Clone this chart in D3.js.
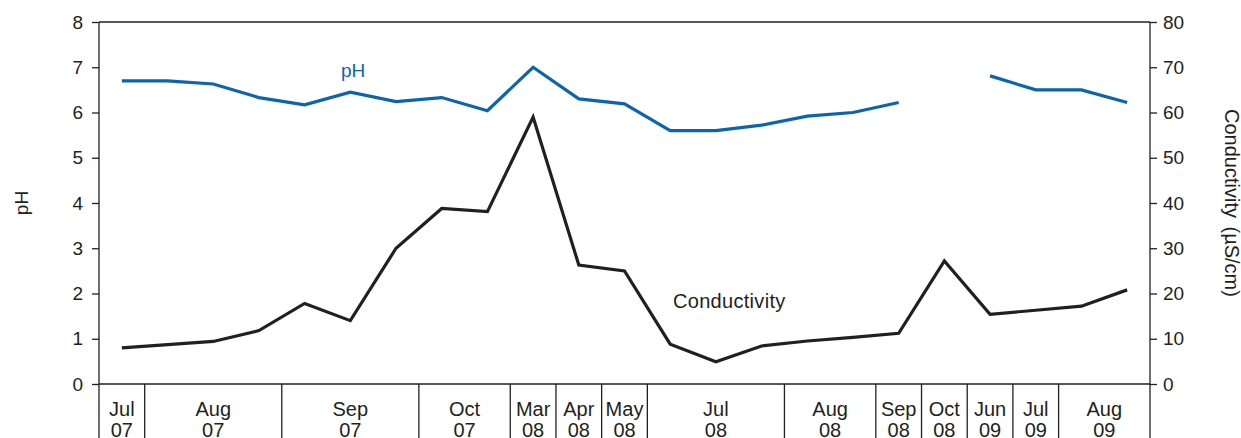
<!DOCTYPE html>
<html>
<head>
<meta charset="utf-8">
<script src="https://cdn.jsdelivr.net/npm/d3@7"></script>
<style>
  html, body { margin: 0; padding: 0; background: #fff; }
  svg { display: block; font-family: "Liberation Sans", Arial, Helvetica, sans-serif; }
</style>
</head>
<body>
<svg id="chart" width="1241" height="438"></svg>
<script>
// Sampling months, grouped as printed under the axis
const monthLabels = ["Jul", "Aug", "Sep", "Oct", "Mar", "Apr", "May", "Jul", "Aug", "Sep", "Oct", "Jun", "Jul", "Aug"];
const yearLabels  = ["07", "07", "07", "07", "08", "08", "08", "08", "08", "08", "08", "09", "09", "09"];
const groupCounts = [1, 3, 3, 2, 1, 1, 1, 3, 2, 1, 1, 1, 1, 2];

// Measurements per sampling event (null = not measured)
const phValues = [6.70, 6.70, 6.63, 6.33, 6.17, 6.45, 6.24, 6.33, 6.04, 7.00, 6.30, 6.19,
                  5.60, 5.60, 5.72, 5.92, 6.00, 6.22, null, 6.81, 6.50, 6.50, 6.22];
const conductivityValues = [8.0, 8.7, 9.4, 11.8, 17.8, 14.0, 30.0, 38.8, 38.1, 59.0, 26.3, 25.0,
                            8.8, 4.9, 8.4, 9.5, 10.3, 11.2, 27.2, 15.4, 16.3, 17.2, 20.8];

// Axis ticks
const phTicks = [0, 1, 2, 3, 4, 5, 6, 7, 8];
const condTicks = [0, 10, 20, 30, 40, 50, 60, 70, 80];

const ink = "#231f20";
const blue = "#0b64ae";

const svg = d3.select("#chart");
const W = 1241, H = 438;
const plotLeft = 99, plotRight = 1150, plotTop = 22, plotBottom = 384;

const x = d3.scaleBand().domain(d3.range(phValues.length)).range([plotLeft, plotRight]).padding(0);
const yPh = d3.scaleLinear().domain([0, 8]).range([plotBottom, plotTop]);
const yCond = d3.scaleLinear().domain([0, 80]).range([plotBottom, plotTop]);

// Left axis
const leftAxis = svg.append("g")
  .attr("transform", `translate(${plotLeft},0)`)
  .call(d3.axisLeft(yPh).tickValues(phTicks).tickSize(7).tickPadding(9).tickFormat(d3.format("d")));
// Right axis
const rightAxis = svg.append("g")
  .attr("transform", `translate(${plotRight},0)`)
  .call(d3.axisRight(yCond).tickValues(condTicks).tickSize(7).tickPadding(6).tickFormat(d3.format("d")));

[leftAxis, rightAxis].forEach(g => {
  g.select(".domain").remove();
  g.selectAll(".tick line").attr("stroke", ink).attr("stroke-width", 1.3);
  g.selectAll(".tick text").attr("fill", ink).style("font-size", "19px")
    .style("font-family", "'Liberation Sans', Arial, sans-serif");
});

// Frame: top, left and right spines (sides run to the bottom edge), baseline
const frame = svg.append("g").attr("stroke", ink).attr("stroke-width", 1.3).attr("fill", "none");
frame.append("line").attr("x1", plotLeft).attr("x2", plotRight).attr("y1", plotTop).attr("y2", plotTop);
frame.append("line").attr("x1", plotLeft).attr("x2", plotLeft).attr("y1", plotTop).attr("y2", H);
frame.append("line").attr("x1", plotRight).attr("x2", plotRight).attr("y1", plotTop).attr("y2", H);
frame.append("line").attr("x1", plotLeft).attr("x2", plotRight).attr("y1", plotBottom).attr("y2", plotBottom);

// Month group dividers and labels below the baseline
let start = 0;
const groups = groupCounts.map((n, i) => {
  const g = { month: monthLabels[i], year: yearLabels[i], first: start, last: start + n - 1 };
  start += n;
  return g;
});
const bw = x.bandwidth();
groups.forEach((g, i) => {
  const x0 = x(g.first), x1 = x(g.last) + bw;
  if (i < groups.length - 1) {
    frame.append("line").attr("x1", x1).attr("x2", x1).attr("y1", plotBottom).attr("y2", H);
  }
  const mid = (x0 + x1) / 2;
  const t = svg.append("text").attr("text-anchor", "middle").attr("fill", ink)
    .style("font-size", "20px");
  t.append("tspan").attr("x", mid).attr("y", 416).text(g.month);
  t.append("tspan").attr("x", mid).attr("y", 437).text(g.year);
});

// Series lines
const px = i => x(i) + bw / 2;
const phLine = d3.line().defined(d => d != null).x((d, i) => px(i)).y(d => yPh(d));
const condLine = d3.line().x((d, i) => px(i)).y(d => yCond(d));

svg.append("path").datum(conductivityValues)
  .attr("d", condLine).attr("fill", "none").attr("stroke", ink)
  .attr("stroke-width", 3.2).attr("stroke-linejoin", "miter");
svg.append("path").datum(phValues)
  .attr("d", phLine).attr("fill", "none").attr("stroke", blue)
  .attr("stroke-width", 3.2).attr("stroke-linejoin", "miter");

// Series labels
svg.append("text").attr("x", 341).attr("y", 77).attr("fill", blue)
  .style("font-size", "19px").text("pH");
svg.append("text").attr("x", 673).attr("y", 308).attr("fill", ink)
  .style("font-size", "20px").style("letter-spacing", "0.3px").text("Conductivity");

// Axis titles
svg.append("text").attr("transform", `translate(28,${(plotTop + plotBottom) / 2}) rotate(-90)`)
  .attr("text-anchor", "middle").attr("fill", ink).style("font-size", "19px").text("pH");
svg.append("text").attr("transform", `translate(1225,${(plotTop + plotBottom) / 2}) rotate(90)`)
  .attr("text-anchor", "middle").attr("fill", ink).style("font-size", "20px")
  .style("word-spacing", "3px").text("Conductivity (µS/cm)");
</script>
</body>
</html>
